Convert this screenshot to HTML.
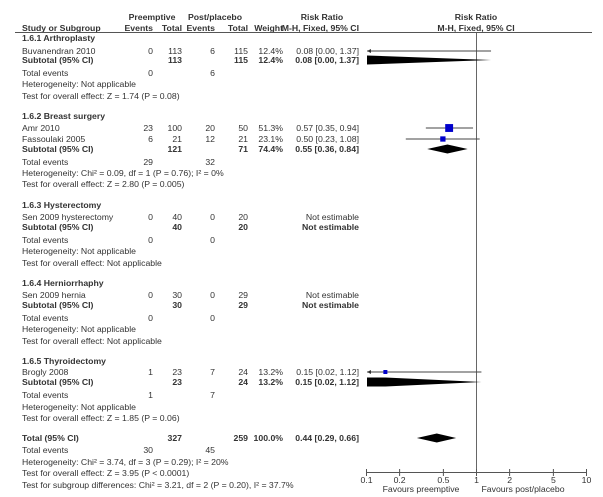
<!DOCTYPE html>
<html><head><meta charset="utf-8"><style>
html,body{margin:0;padding:0;background:#fff}
svg{display:block}
text{font-family:"Liberation Sans",Arial,sans-serif;font-size:8.7px;fill:#333}
.b{font-weight:bold}
</style></head><body>
<svg id="plot" width="603" height="497" viewBox="0 0 603 497" xmlns="http://www.w3.org/2000/svg"></svg>
<script>
const rowTypes = ["h","s","sub","te","t","t","h","s","s","sub","te","t","t","h","s","sub","te","t","t","h","s","sub","te","t","t","h","s","sub","te","t","t","tot","te","t","t","t"];
const rowLabels = ["1.6.1 Arthroplasty","Buvanendran 2010","Subtotal (95% CI)","Total events","Heterogeneity: Not applicable","Test for overall effect: Z = 1.74 (P = 0.08)",
"1.6.2 Breast surgery","Amr  2010","Fassoulaki 2005","Subtotal (95% CI)","Total events","Heterogeneity: Chi² = 0.09, df = 1 (P = 0.76); I² = 0%","Test for overall effect: Z = 2.80 (P = 0.005)",
"1.6.3 Hysterectomy","Sen  2009 hysterectomy","Subtotal (95% CI)","Total events","Heterogeneity: Not applicable","Test for overall effect: Not applicable",
"1.6.4 Herniorrhaphy","Sen 2009 hernia","Subtotal (95% CI)","Total events","Heterogeneity: Not applicable","Test for overall effect: Not applicable",
"1.6.5 Thyroidectomy","Brogly 2008","Subtotal (95% CI)","Total events","Heterogeneity: Not applicable","Test for overall effect: Z = 1.85 (P = 0.06)",
"Total (95% CI)","Total events","Heterogeneity: Chi² = 3.74, df = 3 (P = 0.29); I² = 20%","Test for overall effect: Z = 3.95 (P < 0.0001)","Test for subgroup differences: Chi² = 3.21, df = 2 (P = 0.20), I² = 37.7%"];
const rowY = [38,51,60,73,84,96,116,128,139,149,162,173,184,205,217,227,240,251,263,283,295,305,318,329,341,361,372,382,395,407,418,438,450,462,473,485];
const events1 = ["","0","","0","","","","23","6","","29","","","","0","","0","","","","0","","0","","","","1","","1","","","","30","","",""];
const totals1 = ["","113","113","","","","","100","21","121","","","","","40","40","","","","","30","30","","","","","23","23","","","","327","","","",""];
const events2 = ["","6","","6","","","","20","12","","32","","","","0","","0","","","","0","","0","","","","7","","7","","","","45","","",""];
const totals2 = ["","115","115","","","","","50","21","71","","","","","20","20","","","","","29","29","","","","","24","24","","","","259","","","",""];
const weights = ["","12.4%","12.4%","","","","","51.3%","23.1%","74.4%","","","","","","","","","","","","","","","","","13.2%","13.2%","","","","100.0%","","","",""];
const rrText = ["","0.08 [0.00, 1.37]","0.08 [0.00, 1.37]","","","","","0.57 [0.35, 0.94]","0.50 [0.23, 1.08]","0.55 [0.36, 0.84]","","","","","Not estimable","Not estimable","","","","","Not estimable","Not estimable","","","","","0.15 [0.02, 1.12]","0.15 [0.02, 1.12]","","","","0.44 [0.29, 0.66]","","","",""];
const est = [null,0.08,0.08,null,null,null,null,0.57,0.50,0.55,null,null,null,null,null,null,null,null,null,null,null,null,null,null,null,null,0.15,0.15,null,null,null,0.44,null,null,null,null];
const lo  = [null,0.001,0.001,null,null,null,null,0.35,0.23,0.36,null,null,null,null,null,null,null,null,null,null,null,null,null,null,null,null,0.02,0.02,null,null,null,0.29,null,null,null,null];
const hi  = [null,1.37,1.37,null,null,null,null,0.94,1.08,0.84,null,null,null,null,null,null,null,null,null,null,null,null,null,null,null,null,1.12,1.12,null,null,null,0.66,null,null,null,null];
const wnum = [0,12.4,0,0,0,0,0,51.3,23.1,0,0,0,0,0,0,0,0,0,0,0,0,0,0,0,0,0,13.2,0,0,0,0,0,0,0,0,0];
const tickVals = [0.1,0.2,0.5,1,2,5,10];
const tickLabels = ["0.1","0.2","0.5","1","2","5","10"];

const svg=document.getElementById('plot');const NS='http://www.w3.org/2000/svg';
const xMin=367,xMax=587;
function xs(v){return 476+Math.log10(v)*110;}
function cl(x){return Math.max(xMin,Math.min(xMax,x));}
function mk(tag,at,txt){const e=document.createElementNS(NS,tag);for(const k in at)e.setAttribute(k,at[k]);if(txt!==undefined)e.textContent=txt;svg.appendChild(e);return e;}
function tx(x,y,s,anchor,bold,name){const e=mk('text',{x:x,y:y,'text-anchor':anchor||'start'},s);if(bold)e.setAttribute('class','b');

return e;}
tx(152,20,"Preemptive","middle",true,"header-preemptive");
tx(215,20,"Post/placebo","middle",true,"header-post-placebo");
tx(322,20,"Risk Ratio","middle",true,"header-risk-ratio");
tx(476,20,"Risk Ratio","middle",true,"header-risk-ratio-plot");
tx(22,31,"Study or Subgroup","start",true,"header-study");
tx(153,31,"Events","end",true,"header-events1");
tx(182,31,"Total","end",true,"header-total1");
tx(215,31,"Events","end",true,"header-events2");
tx(248,31,"Total","end",true,"header-total2");
tx(283,31,"Weight","end",true,"header-weight");
tx(359,31,"M-H, Fixed, 95% CI","end",true,"header-method");
tx(476,31,"M-H, Fixed, 95% CI","middle",true,"header-method-plot");
let l=mk('line',{x1:15,y1:32.5,x2:592,y2:32.5,stroke:'#555','stroke-width':1});


l=mk('line',{x1:476.5,y1:33,x2:476.5,y2:472,stroke:'#666','stroke-width':1});


for(let i=0;i<rowY.length;i++){
 const y=rowY[i]+3.2,t=rowTypes[i];const bold=(t==="h"||t==="sub"||t==="tot");
 tx(22,y,rowLabels[i],'start',bold,'row-label');
 const bn=(t==="sub"||t==="tot");
 if(events1[i])tx(153,y,events1[i],'end',false,'events-preemptive');
 if(totals1[i])tx(182,y,totals1[i],'end',bn,'total-preemptive');
 if(events2[i])tx(215,y,events2[i],'end',false,'events-placebo');
 if(totals2[i])tx(248,y,totals2[i],'end',bn,'total-placebo');
 if(weights[i])tx(283,y,weights[i],'end',bn,'weight');
 if(rrText[i])tx(359,y,rrText[i],'end',bn,'risk-ratio-ci');
 if(est[i]!==null){
  const yc=rowY[i];
  if(t==="s"){
   const x1=cl(xs(lo[i])),x2=cl(xs(hi[i]));
   const ln=mk('line',{x1:x1,y1:yc,x2:x2,y2:yc,stroke:'#444','stroke-width':1});
   
   
   if(xs(lo[i])<xMin){const a=mk('path',{d:`M${xMin},${yc} l4,-2 v4 z`,fill:'#333'});
    
    }
   const c=xs(est[i]);
   if(c>=xMin){const s=Math.max(3,Math.sqrt(wnum[i])*1.1);
    const r=mk('rect',{x:c-s/2,y:yc-s/2,width:s,height:s,fill:'#0000cc'});
    
    }
  } else {
   const c=xs(est[i]),a=xs(lo[i]),b=xs(hi[i]);const h=4.5;
   let pts;
   if(a<xMin){
    const cc=Math.max(c,xMin);
    pts=`${xMin},${yc-h} ${cc},${yc-h} ${b},${yc} ${cc},${yc+h} ${xMin},${yc+h}`;
   } else pts=`${a},${yc} ${c},${yc-h} ${b},${yc} ${c},${yc+h}`;
   const d=mk('polygon',{points:pts,fill:'#000'});
   
   
  }
 }
}
l=mk('line',{x1:xs(0.1),y1:472.5,x2:xs(10),y2:472.5,stroke:'#555','stroke-width':1});


for(let i=0;i<tickVals.length;i++){const x=xs(tickVals[i]);
 const tk=mk('line',{x1:x+0.5,y1:469,x2:x+0.5,y2:476,stroke:'#555','stroke-width':1});
 
 
 tx(x+0.5,483,tickLabels[i],'middle',false,'x-tick-label');}
tx(421,492,"Favours preemptive","middle",false,"favours-preemptive");
tx(523,492,"Favours post/placebo","middle",false,"favours-placebo");
</script>
</body></html>
